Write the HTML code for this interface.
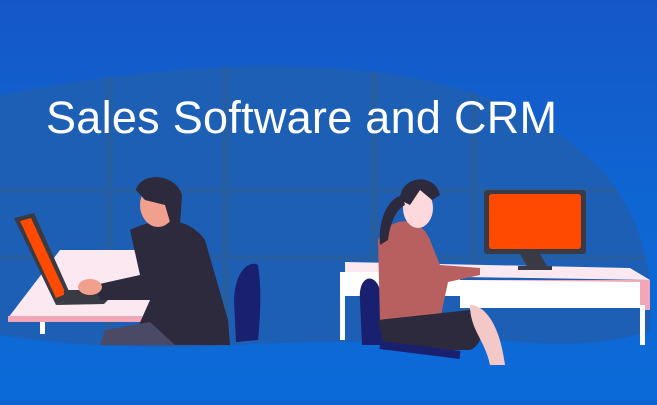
<!DOCTYPE html>
<html><head><style>
html,body{margin:0;padding:0}
body{width:657px;height:400px;overflow:hidden;background:#0d63d0}
</style></head><body>
<svg width="657" height="400" viewBox="0 0 657 400" xmlns="http://www.w3.org/2000/svg">
<defs>
<linearGradient id="bg" x1="0" y1="0" x2="0" y2="1">
<stop offset="0" stop-color="#1557c8"/><stop offset="0.5" stop-color="#0e66d2"/><stop offset="1" stop-color="#0c6ad8"/>
</linearGradient>
<clipPath id="blob"><path d="M0,95 C80,80 200,60 330,68 C470,76 560,120 610,180 C640,220 655,270 650,330 C600,350 520,345 470,335 C400,345 300,340 240,345 C150,350 60,345 0,335 Z"/></clipPath>
</defs>
<rect width="657" height="400" fill="url(#bg)"/>
<path d="M0,95 C80,80 200,60 330,68 C470,76 560,120 610,180 C640,220 655,270 650,330 C600,350 520,345 470,335 C400,345 300,340 240,345 C150,350 60,345 0,335 Z" fill="#1c5fb4"/>
<g clip-path="url(#blob)" fill="#2a5e9c" opacity="0.7">
<rect x="105" y="60" width="8" height="300"/><rect x="222" y="60" width="8" height="300"/>
<rect x="370" y="60" width="8" height="300"/><rect x="470" y="60" width="8" height="300"/>
<rect x="0" y="188" width="657" height="5"/><rect x="0" y="255" width="657" height="5"/>
</g>
<text x="46" y="133" font-family="Liberation Sans, sans-serif" font-size="45" textLength="511" lengthAdjust="spacing" fill="#fff">Sales Software and CRM</text>
<!-- left desk -->
<polygon points="60,250 160,250 170,318 8,318" fill="#fbe8f0"/>
<rect x="8" y="316" width="160" height="6" fill="#f2a7b8"/>
<rect x="40" y="322" width="5" height="12" fill="#fff"/>
<!-- laptop -->
<polygon points="14,218 34,213 72,298 56,305" fill="#3a3a44"/>
<polygon points="20,221 31,218 66,294 56,298" fill="#ff4a00"/>
<polygon points="56,305 72,298 110,298 104,304" fill="#3a3a44"/>
<rect x="64" y="290" width="40" height="12" fill="#3a3a44"/>
<!-- man -->
<path d="M130,230 C160,215 190,218 205,240 L228,320 L230,345 L130,345 L150,300 L100,300 L95,285 L140,275 Z" fill="#2c2a3c"/>
<path d="M105,330 L150,322 L175,345 L100,345 Z" fill="#4a4a66"/>
<ellipse cx="158" cy="205" rx="18" ry="22" fill="#f0a08c"/>
<path d="M136,190 C140,172 175,172 182,195 L180,225 L170,222 L165,205 L145,200 Z" fill="#2c2a3c"/>
<ellipse cx="90" cy="287" rx="12" ry="8" fill="#f0a08c"/>
<!-- chair man -->
<path d="M234,300 C235,270 250,260 258,265 C262,290 260,320 258,340 L236,342 Z" fill="#1a2070"/>
<!-- right desk -->
<polygon points="345,262 630,268 650,280 345,275" fill="#fbe8f0"/>
<rect x="340" y="272" width="120" height="24" fill="#fff"/>
<rect x="460" y="280" width="180" height="28" fill="#fff"/>
<polygon points="460,280 650,280 650,310 640,310 640,282" fill="#f2a7b8"/>
<rect x="340" y="295" width="5" height="45" fill="#fff"/>
<rect x="470" y="305" width="5" height="40" fill="#fff"/>
<rect x="640" y="305" width="5" height="40" fill="#fff"/>
<!-- monitor -->
<rect x="484" y="190" width="102" height="64" rx="3" fill="#3a3a44"/>
<rect x="489" y="194" width="92" height="55" rx="3" fill="#ff4a00"/>
<polygon points="520,254 540,254 548,268 528,268" fill="#3a3a44"/>
<rect x="518" y="266" width="34" height="4" fill="#3a3a44"/>
<!-- woman chair -->
<path d="M360,300 C358,275 375,272 380,290 L385,345 L362,345 Z" fill="#1a2070"/>
<!-- woman -->
<path d="M378,240 C390,215 420,215 430,240 L440,265 L480,268 L480,275 L448,282 L440,320 L380,322 Z" fill="#b86060"/>
<path d="M378,320 L470,310 C490,310 485,345 470,350 L385,350 Z" fill="#2c2a3c"/>
<path d="M470,305 C485,305 500,325 505,365 L490,365 C485,340 470,330 470,305 Z" fill="#f5c8c8"/>
<ellipse cx="418" cy="208" rx="15" ry="20" fill="#fdd8dc"/>
<path d="M400,200 C400,175 435,172 440,195 L432,200 L420,190 L410,205 Z" fill="#2c2a3c"/>
<path d="M402,195 C385,200 378,225 380,245 L388,240 C390,225 395,210 405,205 Z" fill="#2c2a3c"/>
<path d="M380,345 L460,355" stroke="#1a2070" stroke-width="8"/>
</svg>
</body></html>
